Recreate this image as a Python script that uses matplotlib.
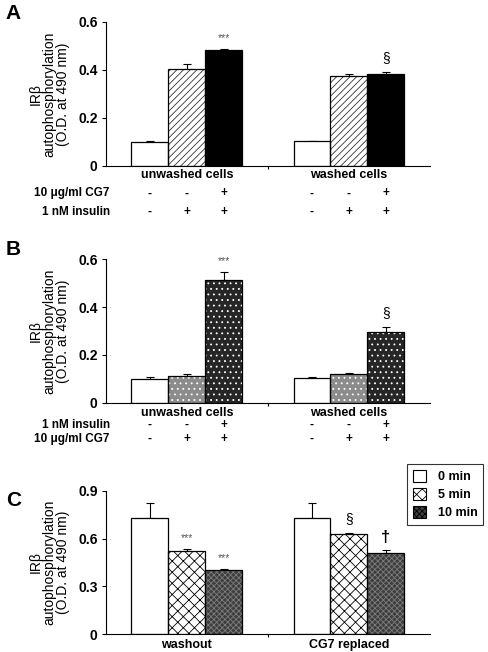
import matplotlib
matplotlib.use("Agg")
import matplotlib.pyplot as plt
import numpy as np
from matplotlib.patches import Patch

plt.rcParams["font.family"] = ["Liberation Sans", "DejaVu Sans"]
plt.rcParams["hatch.linewidth"] = 0.6

# data
groups_ab = ["unwashed cells", "washed cells"]
a_vals = [[0.100, 0.405, 0.483], [0.103, 0.377, 0.382]]
a_err = [[0.004, 0.020, 0.006], [0.003, 0.005, 0.008]]
b_vals = [[0.098, 0.110, 0.513], [0.105, 0.122, 0.297]]
b_err = [[0.008, 0.008, 0.035], [0.002, 0.003, 0.020]]

groups_c = ["washout", "CG7 replaced"]
c_vals = [[0.727, 0.521, 0.405], [0.727, 0.626, 0.512]]
c_err = [[0.098, 0.014, 0.004], [0.098, 0.010, 0.014]]
c_legend = ["0 min", "5 min", "10 min"]

a_rows = [("10 \u03bcg/ml CG7", ["-", "-", "+"]), ("1 nM insulin", ["-", "+", "+"])]
b_rows = [("1 nM insulin", ["-", "-", "+"]), ("10 \u03bcg/ml CG7", ["-", "+", "+"])]

a_marks = [(0, 2, "***"), (1, 2, "\u00a7")]
b_marks = [(0, 2, "***"), (1, 2, "\u00a7")]
c_marks = [(0, 1, "***"), (0, 2, "***"), (1, 1, "\u00a7"), (1, 2, "\u2020")]

a_ticks = ["0", "0.2", "0.4", "0.6"]
c_ticks = ["0", "0.3", "0.6", "0.9"]

# (face, hatch, hatch colour)
style_a = [("white", None, None), ("white", "/////", "#333333"), ("black", None, None)]
style_b = [("white", None, None), ("#8c8c8c", "...", "white"), ("#262626", "...", "white")]
style_c = [("white", None, None), ("white", "xxx", "black"), ("#3e3e3e", "xxxxxx", "#7c7c7c")]

narrow = ["Liberation Sans Narrow", "Liberation Sans", "DejaVu Sans"]
bw = 0.228
offs = np.array([-bw, 0, bw])
centers = np.array([0.5, 1.5])

fig = plt.figure(figsize=(4.88, 6.52), dpi=100)


def panel(rect, vals, errs, styles, ticks, ymax, groups, marks, letter, letter_y, cat_y):
    ax = fig.add_axes(rect)
    vals = np.array(vals)
    errs = np.array(errs)
    for k, (face, hatch, hc) in enumerate(styles):
        xs = centers + offs[k]
        hs = vals[:, k]
        ax.errorbar(xs, hs, yerr=[np.zeros(2), errs[:, k]], fmt="none",
                    ecolor="black", elinewidth=0.8, capsize=3, capthick=0.8, zorder=1)
        ax.bar(xs, hs, bw, color=face, edgecolor=hc if hc else face,
               linewidth=0, hatch=hatch, zorder=2)
        ax.bar(xs, hs, bw, fill=False, edgecolor="black", linewidth=0.9, zorder=3)
    for g, k, s in marks:
        top = vals[g, k] + errs[g, k]
        if s == "***":
            ax.annotate(s, (centers[g] + offs[k], top), xytext=(0, 4),
                        textcoords="offset points", ha="center", va="bottom",
                        fontsize=7.5, color="#555555")
        elif s == "\u2020":
            ax.annotate(s, (centers[g] + offs[k], top), xytext=(0, 4),
                        textcoords="offset points", ha="center", va="bottom",
                        fontsize=12, fontweight="bold")
        else:
            ax.annotate(s, (centers[g] + offs[k], top), xytext=(0, 5),
                        textcoords="offset points", ha="center", va="bottom",
                        fontsize=10)
    ax.set_xlim(0, 2)
    ax.set_ylim(0, ymax)
    ax.set_yticks(np.linspace(0, ymax, 4))
    ax.set_yticklabels(ticks, family=narrow, fontweight="bold", fontsize=10)
    ax.set_xticks([1])
    ax.set_xticklabels([""])
    ax.tick_params(axis="y", direction="out", length=3, width=0.8, pad=3)
    ax.tick_params(axis="x", direction="out", length=2, width=0.8)
    for sp in ["top", "right"]:
        ax.spines[sp].set_visible(False)
    for sp in ["left", "bottom"]:
        ax.spines[sp].set_linewidth(0.8)
    ax.set_ylabel("IR\u03b2\nautophosphorylation\n(O.D. at 490 nm)",
                  fontsize=10, linespacing=0.95, labelpad=6)
    tr = ax.get_xaxis_transform()
    for g, name in enumerate(groups):
        ax.text(centers[g], cat_y, name, transform=tr, ha="center", va="center",
                fontsize=9, fontweight="bold")
    fig.text(0.012, letter_y, letter, fontsize=15, fontweight="bold", va="center")
    return ax


def sign_rows(ax, rows, ys):
    tr = ax.get_xaxis_transform()
    for (label, signs), y in zip(rows, ys):
        ax.text(0.012, y, label, transform=ax.transAxes, ha="right", va="center",
                fontsize=8.5, fontweight="bold")
        for g in range(2):
            for k, s in enumerate(signs):
                ax.text(centers[g] + offs[k], y, s, transform=tr, ha="center",
                        va="center", fontsize=8.5, fontweight="bold")


ax_a = panel([0.217, 0.7454, 0.664, 0.2209], a_vals, a_err, style_a, a_ticks, 0.6,
             groups_ab, a_marks, "A", 0.98, -0.065)
sign_rows(ax_a, a_rows, [-0.19, -0.32])

ax_b = panel([0.217, 0.3824, 0.664, 0.2200], b_vals, b_err, style_b, a_ticks, 0.6,
             groups_ab, b_marks, "B", 0.617, -0.072)
sign_rows(ax_b, b_rows, [-0.155, -0.25])

ax_c = panel([0.217, 0.0271, 0.664, 0.2203], c_vals, c_err, style_c, c_ticks, 0.9,
             groups_c, c_marks, "C", 0.233, -0.075)

handles = [Patch(facecolor=f, edgecolor="black", hatch=h, linewidth=0.8)
           for f, h, _ in style_c]
leg = fig.legend(handles, c_legend, loc="upper right",
                 bbox_to_anchor=(483 / 488, 1 - 464 / 652),
                 frameon=True, fancybox=False, edgecolor="black",
                 handlelength=1.1, handleheight=1.1, handletextpad=0.9,
                 borderpad=0.45, labelspacing=0.4, borderaxespad=0,
                 prop={"family": narrow, "weight": "bold", "size": 9})
leg.get_frame().set_linewidth(0.8)

fig.savefig("out.png", dpi=100)
